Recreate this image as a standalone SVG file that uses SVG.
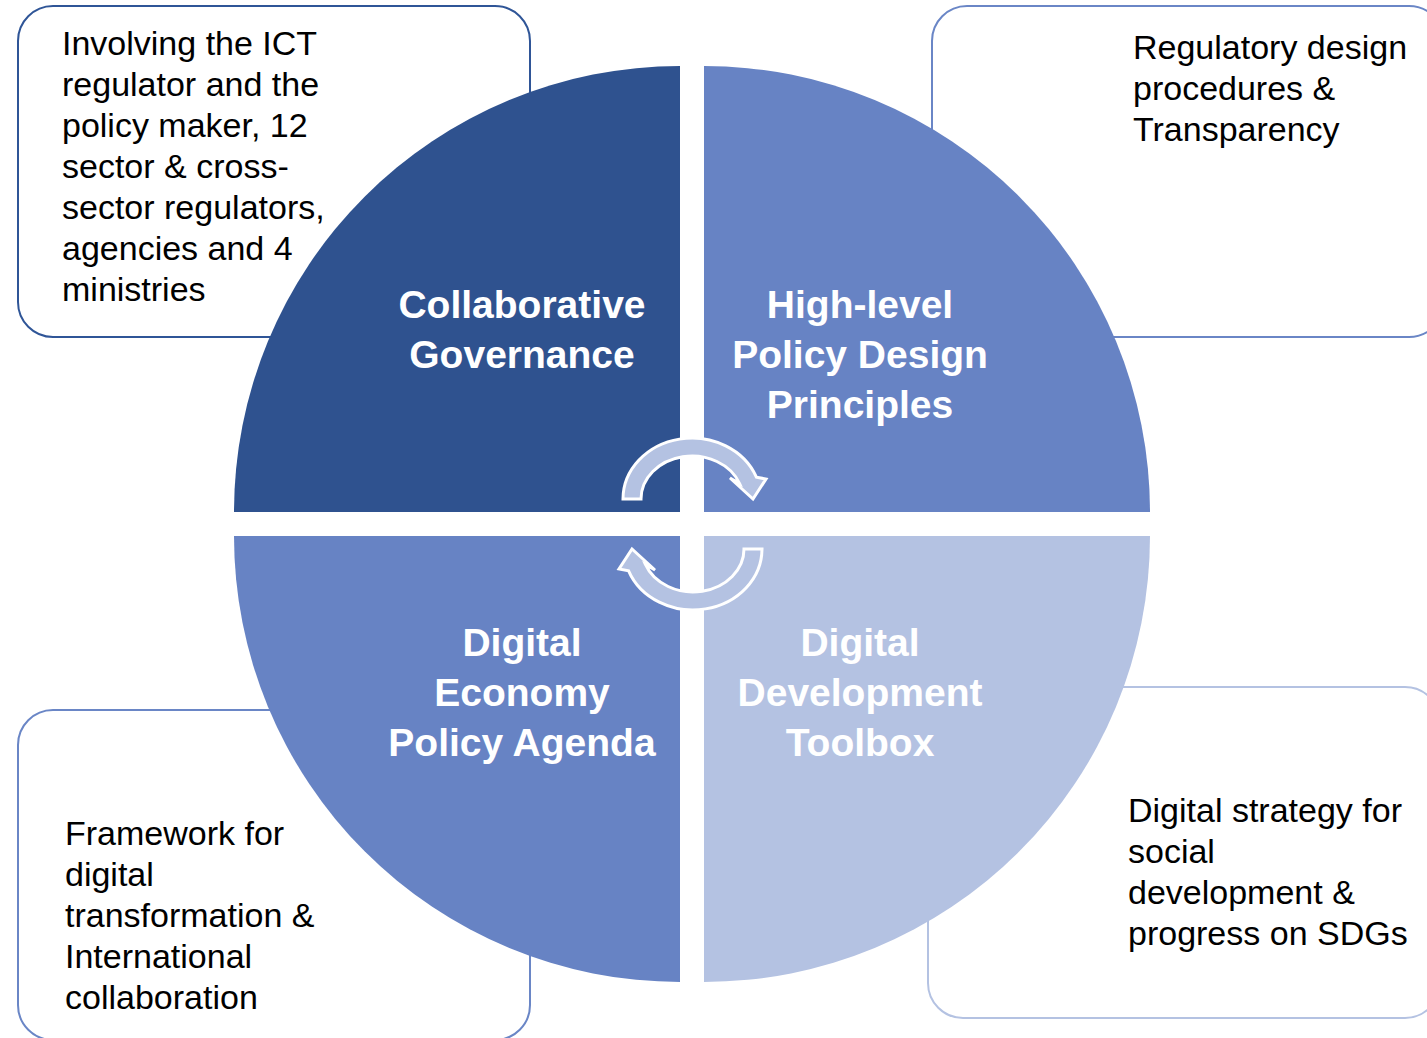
<svg xmlns="http://www.w3.org/2000/svg" width="1427" height="1038" viewBox="0 0 1427 1038">
<defs>
<style>
.box{fill:#ffffff;stroke-width:2}
.bt{font-family:"Liberation Sans",Arial,sans-serif;font-size:34px;fill:#000000}
.lbl{font-family:"Liberation Sans",Arial,sans-serif;font-size:39px;font-weight:bold;fill:#ffffff;text-anchor:middle}
.arr{fill:#b4c2e2;stroke:#ffffff;stroke-width:3;stroke-linejoin:miter}
</style>
<path id="arrowShape" d="M623,499 A69 61 0 0 1 756.4,477.2 L766,479 L753,499 L730,478 L739.6,483.6 A51 43 0 0 0 641,499 Z"/>
</defs>
<rect width="1427" height="1038" fill="#ffffff"/>

<g id="box-tl">
<rect class="box" x="18" y="6" width="512" height="331" rx="35" stroke="#2f5597"/>
<text class="bt" x="62"><tspan x="62" y="55">Involving the ICT</tspan><tspan x="62" y="96">regulator and the</tspan><tspan x="62" y="137">policy maker, 12</tspan><tspan x="62" y="178">sector &amp; cross-</tspan><tspan x="62" y="219">sector regulators,</tspan><tspan x="62" y="260">agencies and 4</tspan><tspan x="62" y="301">ministries</tspan></text>
</g>
<g id="box-tr">
<rect class="box" x="932" y="6" width="512" height="331" rx="35" stroke="#6a86c6"/>
<text class="bt"><tspan x="1133" y="59">Regulatory design</tspan><tspan x="1133" y="100">procedures &amp;</tspan><tspan x="1133" y="141">Transparency</tspan></text>
</g>
<g id="box-bl">
<rect class="box" x="18" y="710" width="512" height="330" rx="35" stroke="#6a86c6"/>
<text class="bt"><tspan x="65" y="845">Framework for</tspan><tspan x="65" y="886">digital</tspan><tspan x="65" y="927">transformation &amp;</tspan><tspan x="65" y="968">International</tspan><tspan x="65" y="1009">collaboration</tspan></text>
</g>
<g id="box-br">
<rect class="box" x="928" y="687" width="512" height="331" rx="35" stroke="#b4c2e2"/>
<text class="bt"><tspan x="1128" y="822">Digital strategy for</tspan><tspan x="1128" y="863">social</tspan><tspan x="1128" y="904">development &amp;</tspan><tspan x="1128" y="945">progress on SDGs</tspan></text>
</g>

<g id="q-collab">
<path d="M680,512 H234 A446 446 0 0 1 680,66 Z" fill="#2f528f"/>
<text class="lbl"><tspan x="522" y="318">Collaborative</tspan><tspan x="522" y="368">Governance</tspan></text>
</g>
<g id="q-highlevel">
<path d="M704,512 V66 A446 446 0 0 1 1150,512 Z" fill="#6783c4"/>
<text class="lbl"><tspan x="860" y="318">High-level</tspan><tspan x="860" y="368">Policy Design</tspan><tspan x="860" y="418">Principles</tspan></text>
</g>
<g id="q-economy">
<path d="M680,536 H234 A446 446 0 0 0 680,982 Z" fill="#6783c4"/>
<text class="lbl"><tspan x="522" y="656">Digital</tspan><tspan x="522" y="706">Economy</tspan><tspan x="522" y="756">Policy Agenda</tspan></text>
</g>
<g id="q-toolbox">
<path d="M704,536 V982 A446 446 0 0 0 1150,536 Z" fill="#b4c2e2"/>
<text class="lbl"><tspan x="860" y="656">Digital</tspan><tspan x="860" y="706">Development</tspan><tspan x="860" y="756">Toolbox</tspan></text>
</g>

<g id="connectors">
<use href="#arrowShape" class="arr"/>
<use href="#arrowShape" class="arr" transform="rotate(180 692.5 524)"/>
</g>
</svg>
